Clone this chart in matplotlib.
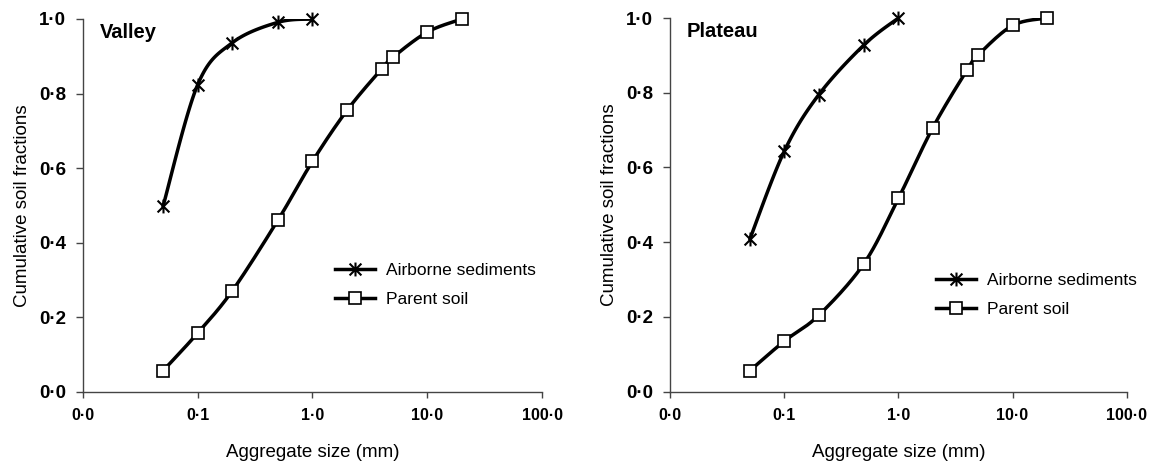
import numpy as np
import matplotlib
matplotlib.use("Agg")
import matplotlib.pyplot as plt
from matplotlib.ticker import FixedLocator, FixedFormatter, NullLocator
from matplotlib.lines import Line2D
from matplotlib.path import Path

plt.rcParams['font.family'] = ['Liberation Sans', 'DejaVu Sans']

# ---- data ----
air_x = [0.05, 0.1, 0.2, 0.5, 1.0]
soil_x = [0.05, 0.1, 0.2, 0.5, 1.0, 2.0, 4.0, 5.0, 10.0, 20.0]

valley_air = [0.497, 0.823, 0.936, 0.991, 1.0]
valley_soil = [0.056, 0.157, 0.270, 0.460, 0.618, 0.755, 0.866, 0.897, 0.965, 1.0]

plateau_air = [0.408, 0.643, 0.794, 0.928, 1.0]
plateau_soil = [0.056, 0.135, 0.204, 0.343, 0.517, 0.706, 0.861, 0.901, 0.980, 1.0]

panels = ["Valley", "Plateau"]
series_names = ["Airborne sediments", "Parent soil"]
x_ticks = [0.01, 0.1, 1.0, 10.0, 100.0]
x_ticklabels = ["0\u00b70", "0\u00b71", "1\u00b70", "10\u00b70", "100\u00b70"]
y_ticks = [0.0, 0.2, 0.4, 0.6, 0.8, 1.0]
y_ticklabels = ["0\u00b70", "0\u00b72", "0\u00b74", "0\u00b76", "0\u00b78", "1\u00b70"]


def smooth(xs, ys, n=30, sx=115.0, sy=373.0):
    """Catmull-Rom smoothing (like spreadsheet 'smoothed line') in screen-like space."""
    u = np.log10(np.asarray(xs, float)) * sx
    v = np.asarray(ys, float) * sy
    P = np.column_stack([u, v])
    P = np.vstack([P[0], P, P[-1]])
    out = []
    for i in range(1, len(P) - 2):
        p0, p1, p2, p3 = P[i - 1], P[i], P[i + 1], P[i + 2]
        c1 = p1 + (p2 - p0) / 6.0
        c2 = p2 - (p3 - p1) / 6.0
        t = np.linspace(0, 1, n)[:, None]
        seg = ((1 - t) ** 3) * p1 + 3 * ((1 - t) ** 2) * t * c1 + 3 * (1 - t) * t ** 2 * c2 + t ** 3 * p2
        out.append(seg if i == 1 else seg[1:])
    out = np.vstack(out)
    return 10 ** (out[:, 0] / sx), out[:, 1] / sy


# X-with-vertical-bar marker
star_path = Path([(0, -1), (0, 1), (-0.85, -0.85), (0.85, 0.85), (-0.85, 0.85), (0.85, -0.85)],
                 [Path.MOVETO, Path.LINETO, Path.MOVETO, Path.LINETO, Path.MOVETO, Path.LINETO])

fig = plt.figure(figsize=(11.53, 4.62), dpi=100)
axes = [fig.add_axes([0.0717, 0.1522, 0.3986, 0.8067]),
        fig.add_axes([0.5811, 0.1522, 0.3961, 0.8088])]

data = [(valley_air, valley_soil), (plateau_air, plateau_soil)]
legend_pos = [(0.549, 0.286), (0.582, 0.259)]
lw = 2.5
air_marker = dict(marker=star_path, markersize=10, markeredgewidth=1.5,
                  markeredgecolor='black', markerfacecolor='black')
soil_marker = dict(marker='s', markersize=9, markeredgewidth=1.2,
                   markeredgecolor='black', markerfacecolor='white')

for ax, name, (air, soil), lp in zip(axes, panels, data, legend_pos):
    ax.set_xscale('log')
    ax.set_xlim(0.01, 100)
    ax.set_ylim(0, 1.0)
    sx, sy = smooth(air_x, air)
    ax.plot(sx, sy, color='black', lw=lw, solid_capstyle='round', zorder=2)
    ax.plot(air_x, air, linestyle='none', zorder=3, clip_on=False, **air_marker)
    sx, sy = smooth(soil_x, soil)
    ax.plot(sx, sy, color='black', lw=lw, solid_capstyle='round', zorder=2)
    ax.plot(soil_x, soil, linestyle='none', zorder=3, clip_on=False, **soil_marker)

    for s in ['top', 'right']:
        ax.spines[s].set_visible(False)
    for s in ['left', 'bottom']:
        ax.spines[s].set_color('#444444')
        ax.spines[s].set_linewidth(1.0)
    ax.xaxis.set_major_locator(FixedLocator(x_ticks))
    ax.xaxis.set_major_formatter(FixedFormatter(x_ticklabels))
    ax.xaxis.set_minor_locator(NullLocator())
    ax.set_yticks(y_ticks)
    ax.set_yticklabels(y_ticklabels)
    ax.tick_params(axis='x', direction='out', length=4, width=1.0, color='#444444',
                   labelsize=11.5, pad=8)
    ax.tick_params(axis='y', direction='out', length=5, width=1.0, color='#444444',
                   labelsize=13.5, pad=7)
    for lab in ax.get_xticklabels() + ax.get_yticklabels():
        lab.set_fontweight('bold')
    ax.set_xlabel("Aggregate size (mm)", fontsize=13.5, labelpad=15)
    ax.set_ylabel("Cumulative soil fractions", fontsize=13.5, labelpad=6)
    ax.text(0.037, 0.99, name, transform=ax.transAxes, fontsize=14.5, fontweight='bold',
            va='top', ha='left')

    handles = [Line2D([], [], color='black', lw=lw, **air_marker),
               Line2D([], [], color='black', lw=lw, **soil_marker)]
    ax.legend(handles, series_names, loc='center left', bbox_to_anchor=lp,
              frameon=False, fontsize=12.5, handlelength=2.3, handletextpad=0.63,
              labelspacing=0.8, borderaxespad=0, borderpad=0)

fig.savefig("out.png", dpi=100)
